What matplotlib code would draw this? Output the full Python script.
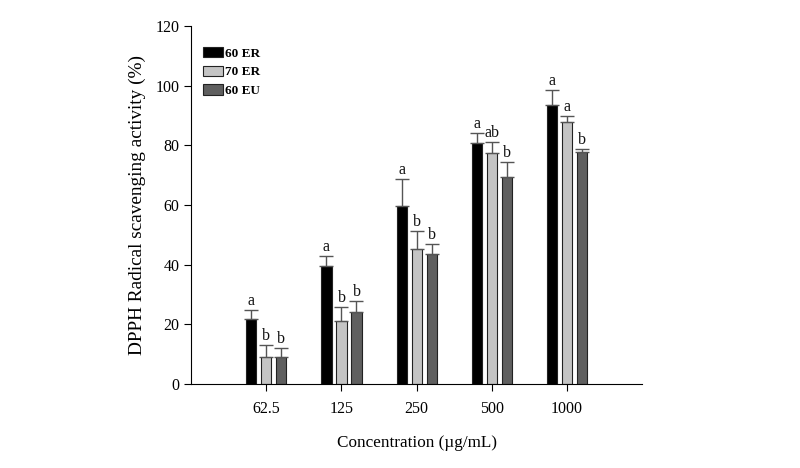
import numpy as np
import matplotlib.pyplot as plt
from matplotlib.patches import Patch

plt.rcParams['font.family'] = ['Liberation Serif', 'DejaVu Serif']

concentrations = ['62.5', '125', '250', '500', '1000']
groups = ['60 ER', '70 ER', '60 EU']

er60 = [21.7, 39.5, 59.8, 80.9, 93.5]
er60_err = [3.1, 3.5, 8.9, 3.1, 5.0]
er70 = [8.9, 21.1, 45.3, 77.5, 87.8]
er70_err = [4.2, 4.8, 6.1, 3.7, 2.0]
eu60 = [8.9, 24.0, 43.5, 69.5, 77.9]
eu60_err = [3.1, 3.9, 3.4, 5.0, 0.8]

letters_er60 = ['a', 'a', 'a', 'a', 'a']
letters_er70 = ['b', 'b', 'b', 'ab', 'a']
letters_eu60 = ['b', 'b', 'b', 'b', 'b']

colors = ['#000000', '#c4c4c4', '#5f5f5f']

fig = plt.figure(figsize=(8, 4.68), dpi=100)
ax = fig.add_axes([0.239, 0.1795, 0.5635, 0.765])

x = np.arange(1, len(concentrations) + 1)
w = 0.135
step = 0.2

series = [(er60, er60_err, letters_er60),
          (er70, er70_err, letters_er70),
          (eu60, eu60_err, letters_eu60)]

for i, (vals, errs, lets) in enumerate(series):
    xs = x + (i - 1) * step
    ax.bar(xs, vals, width=w, color=colors[i], edgecolor='#222222', linewidth=0.8, zorder=2)
    ax.errorbar(xs, vals, yerr=[np.zeros(len(errs)), errs], fmt='none',
                ecolor='#555555', elinewidth=1.0, capsize=5, capthick=1.0, zorder=3)
    for xi, v, e, l in zip(xs, vals, errs, lets):
        ax.text(xi, v + e + 0.3, l, ha='center', va='bottom', fontsize=11.5, color='#111111')

ax.set_xlim(0, 6)
ax.set_ylim(0, 120)
ax.set_yticks(np.arange(0, 121, 20))
ax.set_xticks(x)
ax.set_xticklabels(concentrations)
ax.tick_params(axis='both', direction='out', labelsize=11.5, length=5, width=0.8)
ax.tick_params(axis='x', pad=7)
ax.spines['top'].set_visible(False)
ax.spines['right'].set_visible(False)
for s in ['left', 'bottom']:
    ax.spines[s].set_linewidth(0.8)

ax.set_xlabel('Concentration (µg/mL)', fontsize=12.3, labelpad=13)
ax.set_ylabel('DPPH Radical scavenging activity (%)', fontsize=13.9, labelpad=7)

handles = [Patch(facecolor=colors[i], edgecolor='#222222', linewidth=0.8) for i in range(3)]
leg = ax.legend(handles, groups, loc='upper left', bbox_to_anchor=(0.012, 0.96),
                frameon=False, prop={'weight': 'bold', 'size': 9.5}, borderpad=0,
                handlelength=1.5, handleheight=0.85, handletextpad=0.15, labelspacing=0.45)

fig.savefig('out.png', dpi=100)
